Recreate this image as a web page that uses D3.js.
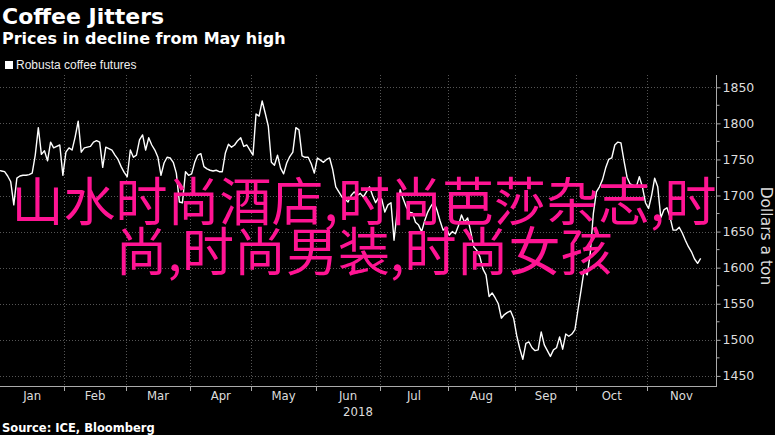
<!DOCTYPE html>
<html><head><meta charset="utf-8">
<script src="https://cdn.jsdelivr.net/npm/d3@7"></script>
<style>html,body{margin:0;padding:0;background:#000;}svg{display:block;}</style>
</head><body>
<script>
const title = "Coffee Jitters";
const subtitle = "Prices in decline from May high";
const legendLabel = "Robusta coffee futures";
const source = "Source: ICE, Bloomberg";
const yAxisTitle = "Dollars a ton";
const yearLabel = "2018";
const monthLabels = ["Jan","Feb","Mar","Apr","May","Jun","Jul","Aug","Sep","Oct","Nov"];
const yTicks = [1450,1500,1550,1600,1650,1700,1750,1800,1850];
const holidays = ["2018-01-01","2018-03-30","2018-04-02","2018-05-07","2018-05-28","2018-08-27"];
const watermarkLines = ["山水时尚酒店,时尚芭莎杂志,时", "尚,时尚男装,时尚女孩"];
// daily settlement (trading days from 2 Jan 2018)
const prices = [
1735,1734,1733,1727,1719,1687,1724,1727,1728,1728,1729,1731,1756,1794,1757,1762,1748,1774,1766,1768,1770,1728,
1760,1766,1763,1781,1803,1760,1766,1767,1768,1774,1776,1774,1739,1767,1765,1763,1756,1750,1740,1732,
1726,1763,1753,1756,1777,1784,1763,1780,1770,1763,1753,1728,1745,1753,1752,1746,1731,1691,1690,1733,1728,
1730,1746,1756,1758,1740,1737,1735,1734,1735,1733,1733,1759,1771,1767,1770,1776,1780,1768,1770,1763,
1756,1813,1810,1831,1814,1796,1746,1742,1756,1738,1730,1745,1754,1760,1794,1791,1755,1753,1753,1744,1731,
1752,1749,1746,1750,1752,1736,1712,1705,1698,1695,1691,1700,1705,1700,1703,1698,1705,1712,1700,1690,1697,
1695,1677,1687,1690,1638,1677,1708,1695,1684,1677,1676,1663,1659,1650,1665,1677,1685,1691,1680,1665,1652,1656,
1645,1650,1647,1658,1673,1663,1669,1650,1629,1624,1615,1598,1590,1560,1565,1558,1550,1530,1535,1538,1540,1530,
1506,1488,1473,1495,1497,1489,1485,1486,1511,1493,1485,1477,1486,1489,1504,1487,1508,1505,1508,1514,
1542,1569,1597,1590,1620,1675,1705,1712,1722,1738,1750,1752,1770,1774,1773,1748,1725,1716,1714,1712,1726,1712,1690,
1682,1700,1724,1712,1669,1680,1683,1670,1652,1652,1656,1648,1638,1629,1622,1612,1606,1613
];

// trading calendar
const fmt = d3.timeFormat("%Y-%m-%d");
const tradingDays = d3.timeDays(new Date(2018,0,1), new Date(2018,11,31))
  .filter(d => d.getDay() !== 0 && d.getDay() !== 6 && !holidays.includes(fmt(d)));
const data = prices.map((v,i) => ({i, date: tradingDays[i], v}));
const monthStarts = d3.range(12).map(m => tradingDays.findIndex(d => d.getMonth() === m));

const W = 775, H = 435;
const plot = {left: 0, right: 716, top: 75, bottom: 386};
const svg = d3.select("body").append("svg").attr("width", W).attr("height", H)
  .style("background", "#000");

const x = d3.scaleLinear().domain([0.5, 234]).range([plot.left, plot.right]);
const y = d3.scaleLinear().domain([1436, 1867]).range([plot.bottom, plot.top]);

// titles
svg.append("text").attr("x", 2).attr("y", 24).text(title)
  .attr("fill", "#fff").attr("font-family", "DejaVu Sans").attr("font-weight", "bold").attr("font-size", 22);
svg.append("text").attr("x", 2).attr("y", 44).text(subtitle)
  .attr("fill", "#fff").attr("font-family", "DejaVu Sans").attr("font-weight", "bold").attr("font-size", 16);
// legend
svg.append("rect").attr("x", 5).attr("y", 61).attr("width", 8).attr("height", 8).attr("fill", "#fff");
svg.append("text").attr("x", 16).attr("y", 69).text(legendLabel)
  .attr("fill", "#eee").attr("font-family", "Liberation Sans, Arial, sans-serif").attr("font-size", 12);

// gridlines
const grid = svg.append("g").attr("stroke", "#555").attr("stroke-width", 1).attr("stroke-dasharray", "1,2");
grid.selectAll("line.h").data(yTicks).join("line")
  .attr("x1", plot.left).attr("x2", plot.right)
  .attr("y1", d => Math.round(y(d)) + 0.5).attr("y2", d => Math.round(y(d)) + 0.5);
const boundaries = monthStarts.slice(1, 11).map(k => x(k - 0.5));
grid.selectAll("line.v").data(boundaries).join("line")
  .attr("x1", d => Math.round(d) + 0.5).attr("x2", d => Math.round(d) + 0.5)
  .attr("y1", plot.top).attr("y2", plot.bottom);

// price line
const line = d3.line().x(d => x(d.i)).y(d => y(d.v));
svg.append("path").datum(data).attr("d", line)
  .attr("fill", "none").attr("stroke", "#fff").attr("stroke-width", 1.4).attr("stroke-linejoin", "round");

// right axis
const yAxis = d3.axisRight(y).tickValues(yTicks).tickSize(4).tickPadding(2).tickFormat(d3.format("d"));
const ya = svg.append("g").attr("transform", `translate(${plot.right + 0.5},0)`).call(yAxis);
ya.select(".domain").attr("stroke", "#aaa").attr("d", `M0,${plot.top}V${plot.bottom}`);
ya.selectAll(".tick line").attr("stroke", "#aaa");
ya.selectAll(".tick text").attr("fill", "#ddd").attr("font-family", "DejaVu Sans, sans-serif").attr("font-size", 12.5);
const minor = d3.range(1450, 1875, 25).filter(v => !yTicks.includes(v));
ya.selectAll("line.minor").data(minor).join("line").attr("class", "minor")
  .attr("x1", 0).attr("x2", 3).attr("y1", d => y(d)).attr("y2", d => y(d)).attr("stroke", "#aaa");
svg.append("text").text(yAxisTitle)
  .attr("transform", `translate(761,236) rotate(90)`).attr("text-anchor", "middle")
  .attr("fill", "#ddd").attr("font-family", "DejaVu Sans, sans-serif").attr("font-size", 15.5);

// bottom axis
const xa = svg.append("g");
xa.append("line").attr("x1", plot.left).attr("x2", plot.right + 1)
  .attr("y1", plot.bottom + 0.5).attr("y2", plot.bottom + 0.5).attr("stroke", "#aaa");
xa.selectAll("line.t").data(boundaries).join("line")
  .attr("x1", d => Math.round(d) + 0.5).attr("x2", d => Math.round(d) + 0.5)
  .attr("y1", plot.bottom).attr("y2", plot.bottom + 5).attr("stroke", "#aaa");
const edges = [plot.left, ...boundaries, plot.right];
xa.selectAll("text.m").data(monthLabels).join("text")
  .attr("x", (d, k) => (edges[k] + edges[k + 1]) / 2).attr("y", 400)
  .attr("text-anchor", "middle").text(d => d)
  .attr("fill", "#ddd").attr("font-family", "Liberation Sans Narrow, DejaVu Sans Condensed, Liberation Sans, sans-serif").attr("font-size", 13);
xa.append("text").attr("x", (plot.left + plot.right) / 2).attr("y", 416).attr("text-anchor", "middle")
  .text(yearLabel).attr("fill", "#ddd")
  .attr("font-family", "Liberation Sans Narrow, DejaVu Sans Condensed, Liberation Sans, sans-serif").attr("font-size", 13);

// source
svg.append("text").attr("x", 2).attr("y", 432).text(source)
  .attr("fill", "#fff").attr("font-family", "DejaVu Sans").attr("font-weight", "bold").attr("font-size", 11.5);

// watermark overlay
svg.selectAll("text.wm").data(watermarkLines).join("text")
  .attr("x", 364).attr("y", (d, k) => 198 + k * 50)
  .attr("text-anchor", "middle").attr("dominant-baseline", "central")
  .attr("fill", "#ff1493").attr("font-family", "Noto Sans CJK SC, sans-serif").attr("font-size", 52)
  .text(d => d);
</script>
</body></html>
